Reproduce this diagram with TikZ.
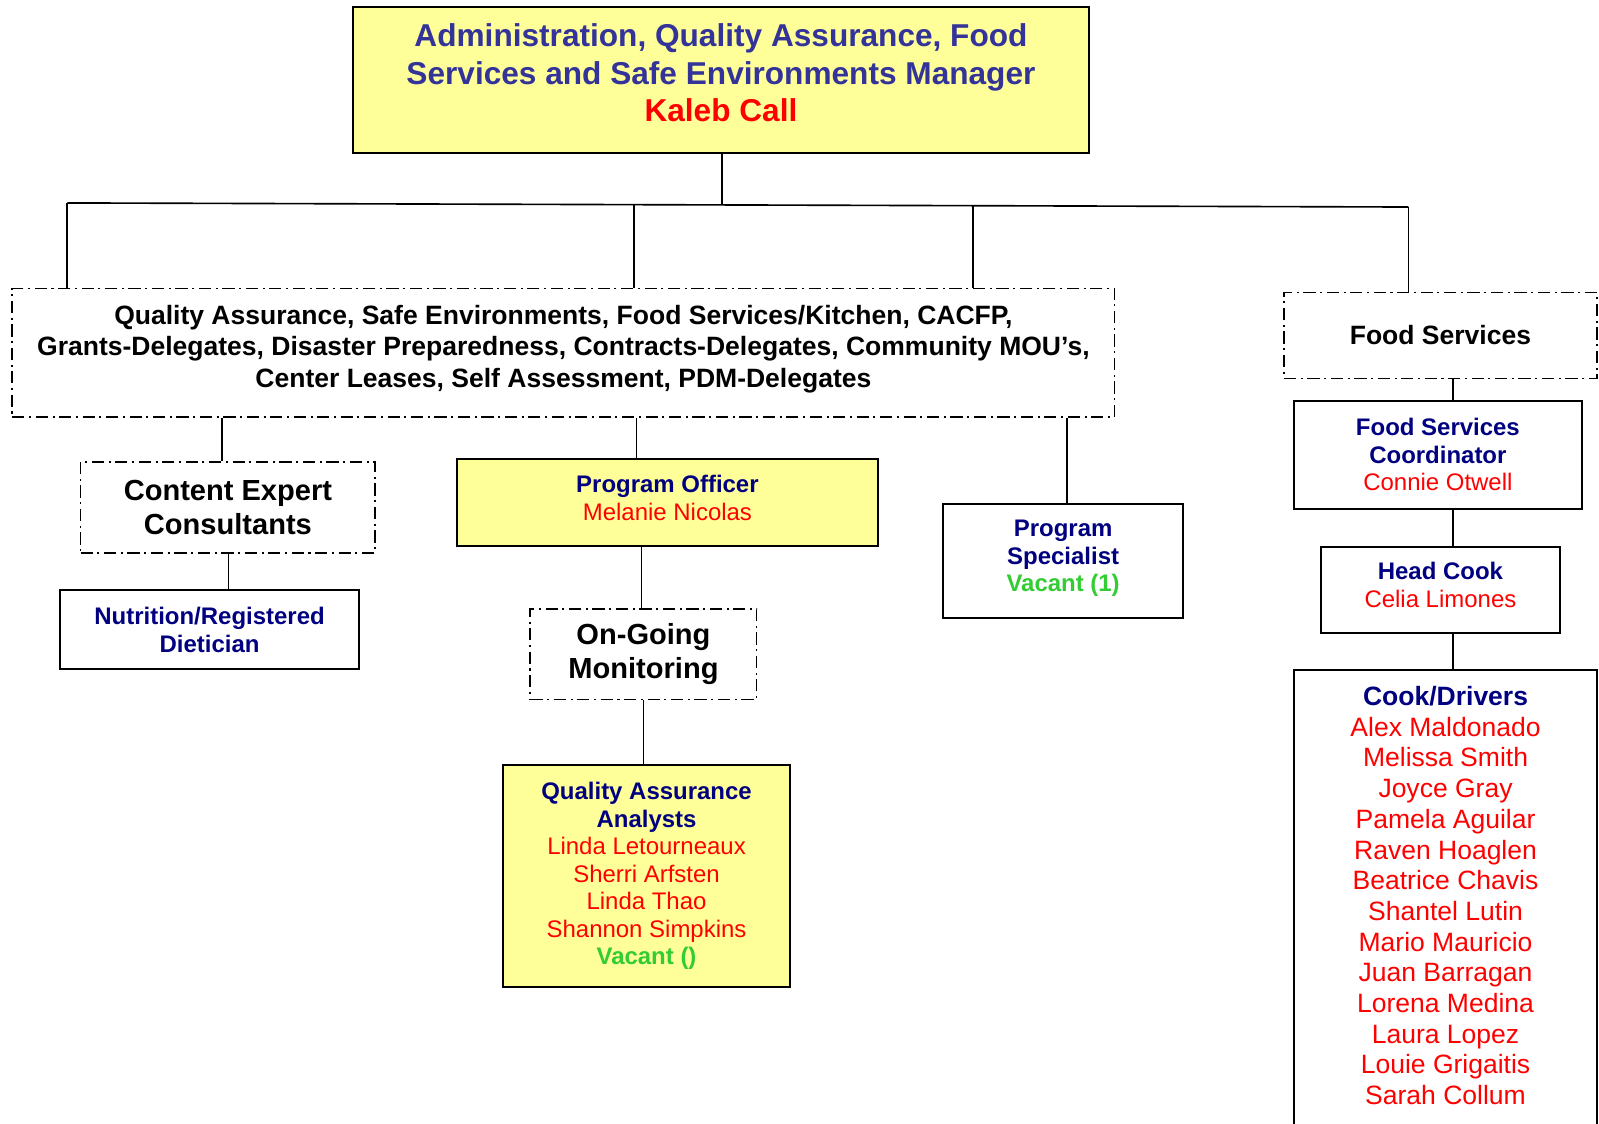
\documentclass[tikz,border=0pt]{standalone}
\usepackage{fontspec}
\setmainfont{Liberation Sans}
\usepackage{tikz}
\usetikzlibrary{positioning}

\definecolor{ttlblue}{HTML}{333399}
\definecolor{navy}{HTML}{000080}
\definecolor{vacgreen}{HTML}{33CC33}
\definecolor{boxyellow}{HTML}{FFFF99}

\begin{document}
\begin{tikzpicture}[x=1pt, y=-1pt,
    solidbox/.style={draw, line width=2pt, align=center, inner sep=0pt},
    yellowbox/.style={solidbox, fill=boxyellow},
    dashbox/.style={draw, line width=1.6pt, align=center, inner sep=0pt,
      dash pattern=on 12pt off 4.5pt on 2pt off 4.5pt},
    link/.style={line width=1.6pt}]
    \clip (0,0) rectangle (1568,1102);

    % manager at the top
    \node[yellowbox, minimum width=722, minimum height=143,
      font=\bfseries\fontsize{31}{36.5}\selectfont] (mgr) at (707,78.5)
      {\textcolor{ttlblue}{Administration, Quality Assurance, Food}\\
       \textcolor{ttlblue}{Services and Safe Environments Manager}\\
       \textcolor{red}{Kaleb Call}\\[-22pt]};

    % the two dashed groups
    \node[dashbox, minimum width=1081, minimum height=126,
      font=\bfseries\fontsize{26}{31}\selectfont] (qa) at (552.5,346)
      {Quality Assurance, Safe Environments, Food Services/Kitchen, CACFP,\\
       Grants-Delegates, Disaster Preparedness, Contracts-Delegates, Community MOU’s,\\
       Center Leases, Self Assessment, PDM-Delegates\\[-18pt]};
    \node[dashbox, minimum width=307, minimum height=84,
      font=\bfseries\fontsize{26}{31}\selectfont] (food) at (1412.5,329) {Food Services};

    % under quality assurance
    \node[dashbox, minimum width=289, minimum height=89,
      font=\bfseries\fontsize{28.5}{33}\selectfont] (cec) at (223.5,497.5)
      {Content Expert\\Consultants};
    \node[solidbox, minimum width=293, minimum height=77,
      font=\bfseries\fontsize{23.5}{27}\selectfont] (diet) at (205.5,617.5)
      {\textcolor{navy}{Nutrition/Registered}\\\textcolor{navy}{Dietician}};
    \node[yellowbox, minimum width=413, minimum height=85,
      font=\fontsize{23.5}{27}\selectfont] (po) at (654.5,492.5)
      {\textcolor{navy}{\bfseries Program Officer}\\\textcolor{red}{Melanie Nicolas}\\[-18pt]};
    \node[dashbox, minimum width=222, minimum height=89,
      font=\bfseries\fontsize{28.5}{34}\selectfont] (ogm) at (631,641.5)
      {On-Going\\Monitoring};
    \node[yellowbox, minimum width=282, minimum height=218,
      font=\fontsize{23.5}{27}\selectfont] (qaa) at (634,859)
      {\textcolor{navy}{\bfseries Quality Assurance}\\
       \textcolor{navy}{\bfseries Analysts}\\
       \textcolor{red}{Linda Letourneaux}\\
       \textcolor{red}{Sherri Arfsten}\\
       \textcolor{red}{Linda Thao}\\
       \textcolor{red}{Shannon Simpkins}\\
       \textcolor{vacgreen}{\bfseries Vacant ()}};
    \node[solidbox, minimum width=235, minimum height=112,
      font=\fontsize{23.5}{27}\selectfont] (ps) at (1042.5,550)
      {\textcolor{navy}{\bfseries Program}\\
       \textcolor{navy}{\bfseries Specialist}\\
       \textcolor{vacgreen}{\bfseries Vacant (1)}\\[-17pt]};

    % food services column
    \node[solidbox, minimum width=282, minimum height=106,
      font=\fontsize{23.5}{27}\selectfont] (fsc) at (1410,446)
      {\textcolor{navy}{\bfseries Food Services}\\
       \textcolor{navy}{\bfseries Coordinator}\\
       \textcolor{red}{Connie Otwell}};
    \node[solidbox, minimum width=235, minimum height=85,
      font=\fontsize{23.5}{27}\selectfont] (cook) at (1412.5,578.5)
      {\textcolor{navy}{\bfseries Head Cook}\\\textcolor{red}{Celia Limones}\\[-17pt]};
    \node[solidbox, minimum width=297, anchor=north, inner ysep=16pt,
      font=\fontsize{26}{30.1}\selectfont] (drv) at (1417.5,656)
      {\textcolor{navy}{\bfseries Cook/Drivers}\\
       \textcolor{red}{Alex Maldonado}\\
       \textcolor{red}{Melissa Smith}\\
       \textcolor{red}{Joyce Gray}\\
       \textcolor{red}{Pamela Aguilar}\\
       \textcolor{red}{Raven Hoaglen}\\
       \textcolor{red}{Beatrice Chavis}\\
       \textcolor{red}{Shantel Lutin}\\
       \textcolor{red}{Mario Mauricio}\\
       \textcolor{red}{Juan Barragan}\\
       \textcolor{red}{Lorena Medina}\\
       \textcolor{red}{Laura Lopez}\\
       \textcolor{red}{Louie Grigaitis}\\
       \textcolor{red}{Sarah Collum}\\[30pt]~};

    % bus under the manager
    \coordinate (bm) at (708,201);
    \coordinate (b1) at (66,199);
    \coordinate (b2) at (622,200.5);
    \coordinate (b3) at (954,201.5);
    \coordinate (b4) at (1381,203);
    \draw[link] (mgr.south -| bm) -- (bm);
    \draw[link] (b1) -- (b4);
    \draw[link] (b1) -- (b1 |- qa.north);
    \draw[link] (b2) -- (b2 |- qa.north);
    \draw[link] (b3) -- (b3 |- qa.north);
    \draw[link] (b4) -- (b4 |- food.north);

    % drops from the dashed group
    \coordinate (d1) at (218,0);
    \coordinate (d2) at (624,0);
    \coordinate (d3) at (1046,0);
    \coordinate (d4) at (224,0);
    \coordinate (d5) at (629,0);
    \coordinate (d6) at (631,0);
    \coordinate (d7) at (1425,0);
    \draw[link] (d1 |- qa.south) -- (d1 |- cec.north);
    \draw[link] (d2 |- qa.south) -- (d2 |- po.north);
    \draw[link] (d3 |- qa.south) -- (d3 |- ps.north);
    \draw[link] (d4 |- cec.south) -- (d4 |- diet.north);
    \draw[link] (d5 |- po.south) -- (d5 |- ogm.north);
    \draw[link] (d6 |- ogm.south) -- (d6 |- qaa.north);
    \draw[link] (d7 |- food.south) -- (d7 |- fsc.north);
    \draw[link] (d7 |- fsc.south) -- (d7 |- cook.north);
    \draw[link] (d7 |- cook.south) -- (d7 |- drv.north);
\end{tikzpicture}
\end{document}
